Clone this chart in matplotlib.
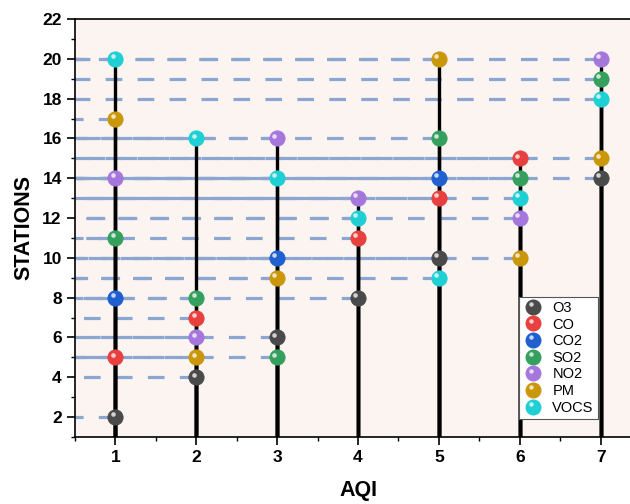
import matplotlib
matplotlib.use("Agg")
import matplotlib.pyplot as plt
from matplotlib.lines import Line2D
from matplotlib.legend_handler import HandlerBase
from matplotlib.transforms import offset_copy
from matplotlib.ticker import MultipleLocator

plt.rcParams['font.family'] = ['Liberation Sans', 'DejaVu Sans']
plt.rcParams['lines.scale_dashes'] = False

series = ["O3", "CO", "CO2", "SO2", "NO2", "PM", "VOCS"]
colors = ["#4a4a4a", "#e8403e", "#1f5fd0", "#35a05e", "#a577dc", "#c99709", "#1ecfd3"]
o3_x = [1, 2, 3, 4, 5, 7]
o3_y = [2, 4, 6, 8, 10, 14]
co_x = [1, 2, 4, 5, 6]
co_y = [5, 7, 11, 13, 15]
co2_x = [1, 3, 5]
co2_y = [8, 10, 14]
so2_x = [1, 2, 3, 5, 6, 7]
so2_y = [11, 8, 5, 16, 14, 19]
no2_x = [1, 2, 3, 4, 6, 7]
no2_y = [14, 6, 16, 13, 12, 20]
pm_x = [1, 2, 3, 5, 6, 7]
pm_y = [17, 5, 9, 20, 10, 15]
vocs_x = [1, 2, 3, 4, 5, 6, 7]
vocs_y = [20, 16, 14, 12, 9, 13, 18]

data = [(o3_x, o3_y), (co_x, co_y), (co2_x, co2_y), (so2_x, so2_y),
        (no2_x, no2_y), (pm_x, pm_y), (vocs_x, vocs_y)]

W, H = 630, 504
fig = plt.figure(figsize=(W / 100, H / 100), dpi=100)
ax = fig.add_axes([75 / W, (H - 437) / H, 566 / W, 418 / H])
ax.set_facecolor("#fcf4f0")
XMIN, XMAX, YMIN, YMAX = 0.5, 7.5, 1, 22
ax.set_xlim(XMIN, XMAX)
ax.set_ylim(YMIN, YMAX)

hcol = "#8ca6d2"
# horizontal drop lines (from point to y axis)
for xs, ys in data:
    for x, y in zip(xs, ys):
        ax.plot([x, XMIN], [y, y], color=hcol, lw=2.3,
                linestyle=(0, (12, 11)), solid_capstyle='butt',
                dash_capstyle='butt', zorder=2)
# vertical drop lines
for xs, ys in data:
    for x, y in zip(xs, ys):
        ax.plot([x, x], [YMIN, y], color="black", lw=2.4, zorder=3,
                solid_capstyle='butt')

hl_trans = offset_copy(ax.transData, fig=fig, x=-2.0, y=2.0, units='points')
for (xs, ys), c, name in zip(data, colors, series):
    ax.plot(xs, ys, linestyle='none', marker='o', ms=11, color=c,
            mec=c, mew=0.6, zorder=5)
    ax.plot(xs, ys, linestyle='none', marker='o', ms=3.3, color='white',
            alpha=0.75, mew=0, zorder=6, transform=hl_trans)


class SphereHandler(HandlerBase):
    def __init__(self, color):
        super().__init__()
        self.color = color

    def create_artists(self, legend, orig_handle, xdescent, ydescent,
                       width, height, fontsize, trans):
        cx = width / 2 - xdescent
        cy = height / 2 - ydescent
        m = Line2D([cx], [cy], marker='o', ms=10.5, color=self.color,
                   mec=self.color, linestyle='none')
        h = Line2D([cx - 2], [cy + 2], marker='o', ms=3.2, color='white',
                   alpha=0.75, mew=0, linestyle='none')
        m.set_transform(trans)
        h.set_transform(trans)
        return [m, h]


handles = [Line2D([], [], marker='o', color=c, linestyle='none') for c in colors]
hmap = {hd: SphereHandler(c) for hd, c in zip(handles, colors)}
leg = ax.legend(handles, series, handler_map=hmap, loc='lower left',
                bbox_to_anchor=(0.784, 0.043), borderaxespad=0,
                fontsize=10.5, labelspacing=0.18, handlelength=1.4,
                handletextpad=0.6, borderpad=0.3, fancybox=False,
                framealpha=1, edgecolor="#555555")
leg.get_frame().set_linewidth(0.8)
leg.set_zorder(10)

ax.spines['right'].set_visible(False)
for s in ['left', 'bottom', 'top']:
    ax.spines[s].set_linewidth(1.2)
ax.xaxis.set_major_locator(MultipleLocator(1))
ax.xaxis.set_minor_locator(MultipleLocator(0.5))
ax.yaxis.set_major_locator(MultipleLocator(2))
ax.yaxis.set_minor_locator(MultipleLocator(1))
ax.set_xticks([1, 2, 3, 4, 5, 6, 7])
ax.tick_params(which='major', direction='out', length=6, width=1.2,
               labelsize=12.5)
ax.tick_params(which='minor', direction='out', length=3, width=1.0)
for lab in ax.get_xticklabels() + ax.get_yticklabels():
    lab.set_fontweight('bold')

ax.set_xlabel("AQI", fontsize=15.5, fontweight='bold', labelpad=11)
ax.set_ylabel("STATIONS", fontsize=15.5, fontweight='bold', labelpad=6)

fig.savefig("out.png", dpi=100)
